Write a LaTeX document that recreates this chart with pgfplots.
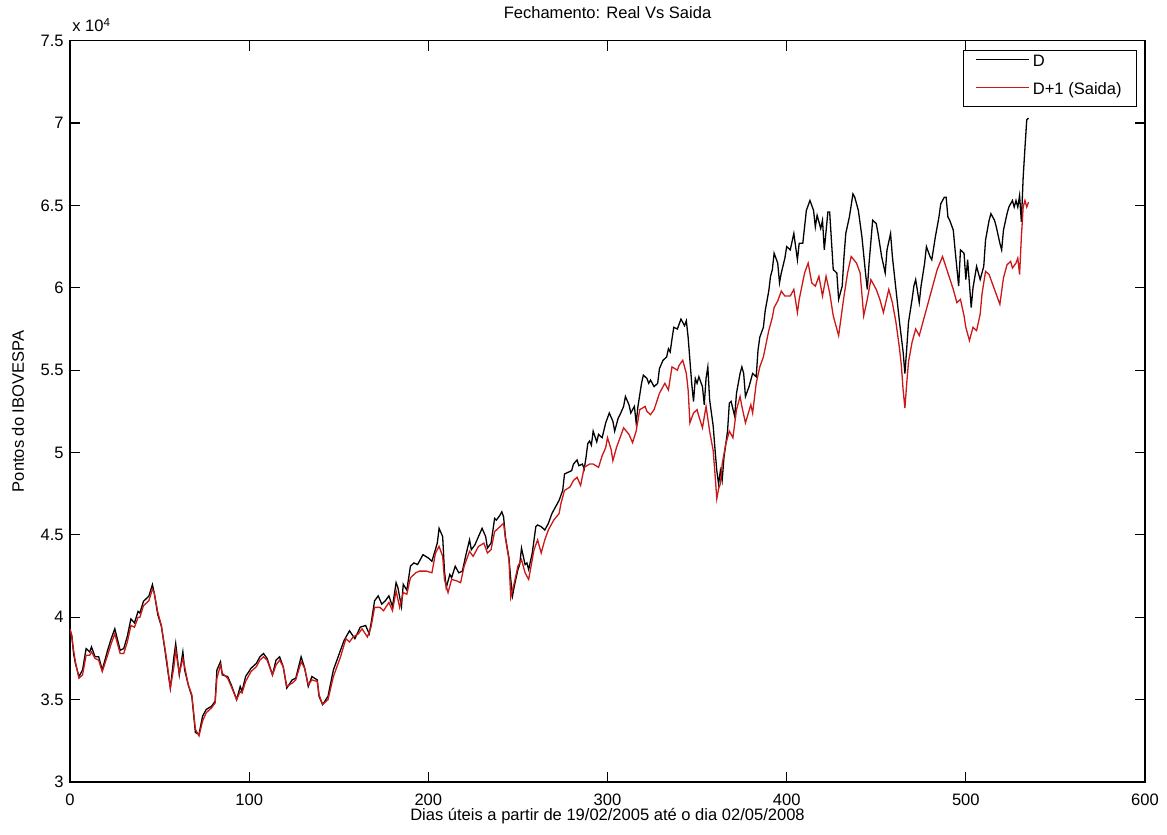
\documentclass[border=0pt]{standalone}
\usepackage{fontspec}
\setmainfont{Liberation Sans}
\usepackage{pgfplots}
\pgfplotsset{compat=1.18}
\newcommand{\fs}{\fontsize{8.3}{10}\selectfont}
\definecolor{mred}{RGB}{205,22,22}
\begin{document}
\begin{tikzpicture}
\useasboundingbox (-35bp,-26.5bp) rectangle (548.5bp,391bp);
\begin{axis}[
  name=ax,
  at={(0,0)}, anchor=south west, scale only axis,
  width=537.5bp, height=370.65bp,
  xmin=0, xmax=600, ymin=30000, ymax=75000,
  xtick={0,100,...,600},
  ytick={30000,35000,40000,45000,50000,55000,60000,65000,70000,75000},
  yticklabels={3,3.5,4,4.5,5,5.5,6,6.5,7,7.5},
  scaled y ticks=false,
  tick align=inside, tick pos=both, ticklabel pos=left,
  major tick length=5bp,
  /pgf/number format/assume math mode=true,
  tick label style={font=\fs},
  xticklabel style={anchor=base, yshift=-11.5bp},
  yticklabel style={anchor=east, inner sep=0pt, xshift=-3bp},
  axis line style={line width=0.6bp},
  every tick/.style={black, line width=0.6bp},
  title={Fechamento: Real Vs Saida},
  title style={font=\fs, at={(0.5,1)}, anchor=base, yshift=5bp},
  xlabel={Dias úteis a partir de 19/02/2005 até o dia 02/05/2008},
  xlabel style={font=\fs, at={(axis description cs:0.5,-0.0526)}, anchor=base},
  ylabel={Pontos do IBOVESPA},
  ylabel style={font=\fs, at={(axis description cs:-0.0484,0.5)}, anchor=center},
  legend style={at={(rel axis cs:1,1)}, anchor=north east, xshift=-4bp, yshift=-4.6bp,
    draw=black, line width=0.5bp, inner xsep=5.8bp, inner ysep=0bp, row sep=0bp,
    font=\fs, cells={anchor=west},
    nodes={inner xsep=1.65bp, inner ysep=0bp, text height=8bp, text depth=6bp}},
  legend image code/.code={\draw[#1, line width=0.65bp] (0bp,2.5bp) -- (26.5bp,2.5bp);},
]
\addplot[black, line width=0.65bp] coordinates {
(0,39250)(1,38900)(2,37800)(3,37200)(5,36400)(7,36800)(9,38100)(11,37900)(12,38200)(14,37600)
(16,37600)(18,36800)(21,38000)(23,38700)(25,39300)(28,38000)(30,38100)(32,38850)(34,39900)(36,39660)
(38,40360)(39,40260)(41,40970)(44,41280)(46,41980)(47,41480)(49,40160)(51,39450)(53,38000)(54,37200)
(56,35700)(58,37600)(59,38400)(61,36500)(63,37900)(64,36800)(66,35900)(68,35200)(70,33000)(72,32900)
(74,34000)(76,34400)(79,34600)(81,34900)(82,36800)(84,37300)(85,36500)(88,36400)(90,35900)(93,35000)
(95,35800)(96,35500)(98,36400)(101,36900)(104,37200)(106,37600)(108,37800)(110,37500)(113,36500)(115,37400)
(117,37600)(119,37000)(121,35700)(124,36200)(126,36300)(129,37600)(131,36900)(133,35800)(135,36400)(138,36200)
(139,35200)(141,34700)(144,35200)(147,36800)(149,37400)(151,38000)(153,38600)(156,39180)(159,38700)(162,39400)
(165,39500)(167,39000)(168,39600)(170,41000)(172,41300)(174,40800)(176,41000)(178,41300)(180,40650)(182,42100)
(183,41800)(185,40650)(186,42000)(188,41650)(190,43100)(192,43300)(194,43200)(197,43800)(200,43600)(202,43400)
(205,44500)(206,45400)(208,44900)(209,42800)(210,41800)(212,42600)(213,42400)(215,43100)(217,42700)(219,42800)
(221,43800)(223,44700)(224,44100)(226,44400)(228,44900)(230,45400)(232,44900)(233,44200)(235,44500)(237,46000)
(238,45900)(240,46200)(241,46400)(242,46100)(243,44900)(245,43600)(246,42300)(247,41300)(248,41900)(250,42900)
(251,43200)(252,44200)(254,43200)(255,43300)(256,42900)(258,43900)(260,45500)(261,45600)(263,45500)(265,45300)
(267,45700)(269,46300)(271,46700)(273,47100)(275,47700)(276,48700)(278,48800)(280,48900)(281,49300)(283,49550)
(284,49200)(286,49300)(287,49000)(288,49700)(289,50550)(290,50700)(291,50450)(292,51300)(294,50650)(295,51100)
(297,50900)(299,51800)(301,52400)(303,51900)(304,51300)(306,52100)(307,52300)(309,52800)(310,53400)(312,52900)
(313,52400)(315,52800)(316,51800)(317,52800)(319,54200)(320,54700)(322,54500)(323,54200)(324,54400)(326,54000)
(328,54200)(329,55100)(331,55600)(333,55800)(334,56300)(335,56100)(336,56900)(337,57600)(339,57500)(340,57800)
(341,58100)(343,57700)(344,58000)(345,57000)(346,55600)(347,54200)(348,53100)(349,54500)(350,54200)(351,54600)
(353,54000)(354,52900)(355,54500)(356,55200)(357,53200)(359,51600)(360,50200)(361,48900)(362,48100)(363,48900)
(364,48300)(365,49700)(367,51300)(368,53000)(369,53100)(371,52200)(372,53600)(374,54800)(375,55200)(376,54800)
(377,53400)(379,54000)(380,54400)(381,54800)(383,54600)(384,56200)(385,57000)(387,57600)(388,58600)(390,59800)
(391,60700)(392,61100)(393,62100)(395,61500)(396,60300)(397,60900)(399,61800)(400,62500)(402,62300)(404,63300)
(406,61700)(407,62700)(409,62700)(411,64700)(412,65000)(413,65300)(415,64700)(416,63700)(417,64400)(419,63600)
(420,64100)(421,62300)(423,64600)(424,64600)(426,61100)(428,60900)(429,59300)(431,60100)(432,61900)(433,63300)
(435,64300)(437,65700)(438,65500)(440,64700)(442,63100)(444,60900)(445,59900)(446,61500)(448,64100)(450,63900)
(451,63300)(453,61900)(455,60900)(456,62300)(458,63300)(459,61900)(461,59900)(463,57900)(465,56100)(466,54800)
(467,56300)(468,57900)(470,59300)(471,60100)(472,60500)(474,59100)(475,60100)(477,61500)(478,62500)(480,61900)
(481,61700)(483,63100)(485,64300)(486,65100)(488,65500)(489,65500)(490,64300)(491,64100)(493,63500)(494,62300)
(496,60100)(497,62300)(499,62100)(500,60500)(501,61700)(503,58800)(504,60000)(506,61300)(507,60900)(508,60500)
(510,61300)(511,62900)(513,64100)(514,64500)(516,64100)(517,63700)(519,62700)(520,62300)(521,63500)(523,64500)
(524,64900)(526,65300)(527,64900)(528,65300)(529,64900)(530,65600)(531,64000)(532,66700)(533,68500)(534,70200)
(535,70300)
};
\addlegendentry{D}
\addplot[mred, line width=0.65bp] coordinates {
(0,39300)(1,38800)(2,38000)(3,37300)(5,36300)(7,36500)(9,37700)(11,37700)(12,37900)(14,37500)
(16,37400)(18,36700)(21,37700)(23,38400)(25,39000)(28,37800)(30,37800)(32,38500)(34,39500)(36,39400)
(38,40000)(39,40000)(41,40700)(44,41000)(46,41700)(47,41500)(49,40300)(51,39500)(53,38100)(54,37400)
(56,35700)(58,37000)(59,38000)(61,36600)(63,37500)(64,37000)(66,35900)(68,35300)(70,33200)(72,32800)
(74,33700)(76,34200)(79,34500)(81,34800)(82,36300)(84,37100)(85,36600)(88,36300)(90,35800)(93,35000)
(95,35500)(96,35400)(98,36100)(101,36700)(104,37000)(106,37400)(108,37600)(110,37400)(113,36500)(115,37100)
(117,37400)(119,37000)(121,35800)(124,36000)(126,36200)(129,37300)(131,36900)(133,35900)(135,36200)(138,36100)
(139,35300)(141,34700)(144,35000)(147,36400)(149,37000)(151,37600)(154,38700)(156,38500)(158,38800)(161,39000)
(163,39300)(166,38800)(168,39400)(170,40600)(173,40600)(175,40400)(178,40900)(180,40400)(182,41600)(184,40600)
(186,41500)(188,41400)(190,42400)(193,42700)(195,42800)(199,42800)(202,42700)(204,43900)(206,44300)(208,43700)
(209,42300)(211,41500)(213,42300)(216,42200)(218,42100)(220,43100)(223,44000)(225,43700)(228,44300)(231,44500)
(233,43900)(235,44100)(237,45200)(240,45500)(242,45700)(243,44800)(245,43500)(246,41200)(248,42100)(250,43100)
(252,43500)(254,42700)(256,42300)(259,44100)(261,44700)(263,43900)(265,44700)(267,45300)(270,45900)(273,46300)
(274,46900)(276,47700)(279,47900)(281,48300)(283,48500)(285,48000)(287,49100)(290,49300)(292,49300)(295,49100)
(297,49800)(299,50300)(300,50900)(302,50200)(303,49500)(305,50300)(307,50900)(309,51500)(312,51100)(314,50600)
(316,51300)(318,52600)(321,52800)(322,52500)(324,52300)(326,52600)(329,53600)(332,54200)(334,53800)(336,55200)
(339,55000)(340,55300)(342,55600)(344,54800)(345,53800)(346,51800)(348,52400)(350,52600)(351,52200)(353,51500)
(355,52800)(357,51300)(359,50100)(360,48700)(361,47200)(362,47800)(363,48100)(364,49300)(366,50500)(368,51300)
(370,50900)(372,52600)(374,53400)(375,52800)(377,51800)(380,52900)(381,52400)(383,54200)(385,55200)(387,55800)
(390,57400)(392,58200)(393,58800)(395,59200)(397,59800)(399,59500)(401,59500)(402,59500)(404,59900)(406,58500)
(407,59300)(410,60900)(412,61500)(414,60300)(416,60100)(418,60700)(420,59500)(422,60700)(424,59700)(426,58300)
(429,57100)(432,59500)(434,60900)(436,61900)(439,61500)(441,60900)(443,58300)(445,59300)(447,60500)(450,59900)
(452,59300)(454,58500)(457,59900)(459,59100)(461,57900)(463,56300)(464,55300)(465,53800)(466,52700)(467,54200)
(468,55500)(470,56700)(472,57500)(474,57100)(477,58300)(480,59500)(482,60300)(484,61100)(487,61900)(490,60900)
(493,59900)(495,59100)(497,59300)(499,58300)(500,57600)(502,56800)(504,57600)(506,57400)(508,58400)(509,59600)
(511,61000)(513,60800)(515,60200)(517,59600)(519,59000)(521,60600)(523,61400)(525,61600)(526,61200)(528,61500)
(529,61800)(530,60800)(531,63100)(532,64900)(533,65300)(534,64900)(535,65200)
};
\addlegendentry{D+1 (Saida)}
\end{axis}
\node[anchor=base west, inner sep=0pt, font=\fs] at ([xshift=1bp,yshift=4.5bp]ax.north west) {x 10\textsuperscript{4}};
\end{tikzpicture}
\end{document}
